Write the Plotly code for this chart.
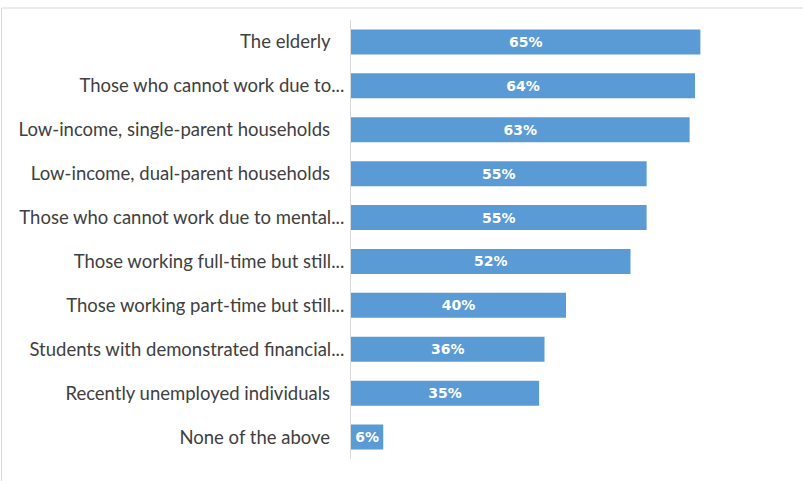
import plotly.graph_objects as go

categories = [
    "The elderly",
    "Those who cannot work due to...",
    "Low-income, single-parent households",
    "Low-income, dual-parent households",
    "Those who cannot work due to mental...",
    "Those working full-time but still...",
    "Those working part-time but still...",
    "Students with demonstrated financial...",
    "Recently unemployed individuals",
    "None of the above",
]
values = [65, 64, 63, 55, 55, 52, 40, 36, 35, 6]

NB = "\u00a0"
ticktext = [c if c.endswith("...") else c + NB * 3 for c in categories]

W, H = 803, 481
ml, mr, mt, mb = 351, 22, 19.5, 22
pw = W - ml - mr
ph = H - mt - mb

fig = go.Figure(go.Bar(
    y=categories,
    x=values,
    orientation="h",
    marker=dict(color="#5B9BD5", line=dict(width=0)),
    width=0.57,
    text=[f"{v}%" for v in values],
    textposition="inside",
    insidetextanchor="middle",
    constraintext="none",
    textfont=dict(family="DejaVu Sans", size=14, color="white", weight="bold"),
    cliponaxis=False,
))

fig.update_layout(
    width=W, height=H,
    margin=dict(l=ml, r=mr, t=mt, b=mb, pad=0),
    paper_bgcolor="white",
    plot_bgcolor="white",
    showlegend=False,
    font=dict(family="Lato", size=18.5, color="#404040"),
    xaxis=dict(range=[0, 80], visible=False, showgrid=False, zeroline=False),
    yaxis=dict(
        autorange="reversed",
        tickmode="array",
        tickvals=categories,
        ticktext=ticktext,
        showline=True,
        linecolor="#D9D9D9",
        linewidth=1,
        ticks="",
        ticklabelstandoff=2,
        showgrid=False,
        tickfont=dict(family="Lato", size=18.5, color="#404040"),
    ),
    shapes=[dict(
        type="rect", xref="paper", yref="paper",
        x0=(1.5 - ml) / pw, x1=2,
        y0=-0.3, y1=(H - mb - 7.5) / ph,
        line=dict(color="#D9D9D9", width=1),
        fillcolor="rgba(0,0,0,0)",
        layer="below",
    )],
)

fig.write_html(
    "out.html",
    config={"displayModeBar": False},
    post_script="document.body.style.margin='0';document.body.style.overflow='hidden';",
)
